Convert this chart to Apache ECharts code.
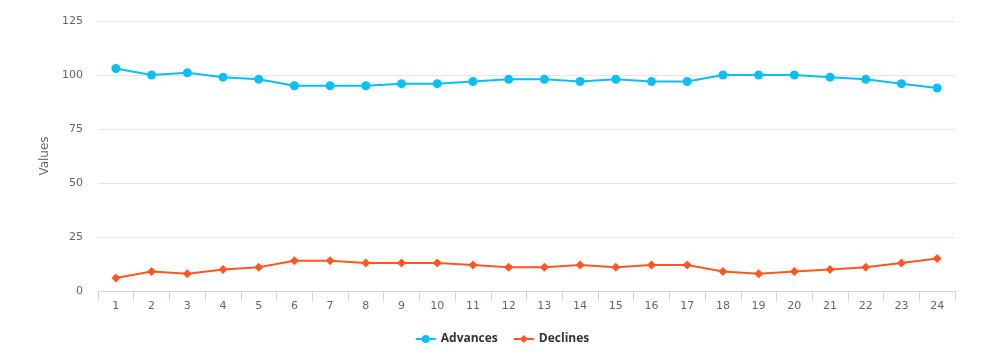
<!DOCTYPE html>
<html style="height: 100%">
<head>
    <meta charset="utf-8">
    <title>Advances / Declines</title>
</head>
<body style="height: 100%; margin: 0">
<div id="container" style="width: 1004px; height: 354px"></div>
<script type="text/javascript" src="https://cdn.jsdelivr.net/npm/echarts@6/dist/echarts.min.js"></script>
<script type="text/javascript">
    var categories = ['1', '2', '3', '4', '5', '6', '7', '8', '9', '10', '11', '12',
        '13', '14', '15', '16', '17', '18', '19', '20', '21', '22', '23', '24'];
    var advances = [103, 100, 101, 99, 98, 95, 95, 95, 96, 96, 97, 98,
        98, 97, 98, 97, 97, 100, 100, 100, 99, 98, 96, 94];
    var declines = [6, 9, 8, 10, 11, 14, 14, 13, 13, 13, 12, 11,
        11, 12, 11, 12, 12, 9, 8, 9, 10, 11, 13, 15];

    var font = 'DejaVu Sans';
    var myChart = echarts.init(document.getElementById('container'));
    var option = {
        animation: false,
        textStyle: {fontFamily: font},
        grid: {left: 98, right: 49, top: 21, bottom: 63},
        legend: {
            bottom: 4,
            left: 'center',
            itemGap: 15,
            itemWidth: 20,
            itemHeight: 10,
            textStyle: {fontFamily: 'Open Sans', fontSize: 12, fontWeight: 'bold', color: '#333333'},
            data: ['Advances', 'Declines']
        },
        xAxis: {
            type: 'category',
            data: categories,
            boundaryGap: true,
            axisLine: {show: true, lineStyle: {color: '#ccd6eb'}},
            axisTick: {show: true, length: 10, lineStyle: {color: '#ccd6eb'}},
            axisLabel: {color: '#666666', fontSize: 11, margin: 10}
        },
        yAxis: {
            type: 'value',
            min: 0,
            max: 125,
            interval: 25,
            name: 'Values',
            nameLocation: 'middle',
            nameGap: 42,
            nameTextStyle: {color: '#666666', fontSize: 12},
            axisLine: {show: false},
            axisTick: {show: false},
            axisLabel: {color: '#666666', fontSize: 11, margin: 15},
            splitLine: {lineStyle: {color: '#e6e6e6'}}
        },
        series: [
            {
                name: 'Advances',
                type: 'line',
                data: advances,
                symbol: 'circle',
                symbolSize: 9,
                color: '#0bbff5',
                lineStyle: {width: 2}
            },
            {
                name: 'Declines',
                type: 'line',
                data: declines,
                symbol: 'diamond',
                symbolSize: 9,
                color: '#ff5722',
                lineStyle: {width: 2}
            }
        ]
    };
    myChart.setOption(option);
</script>
</body>
</html>
